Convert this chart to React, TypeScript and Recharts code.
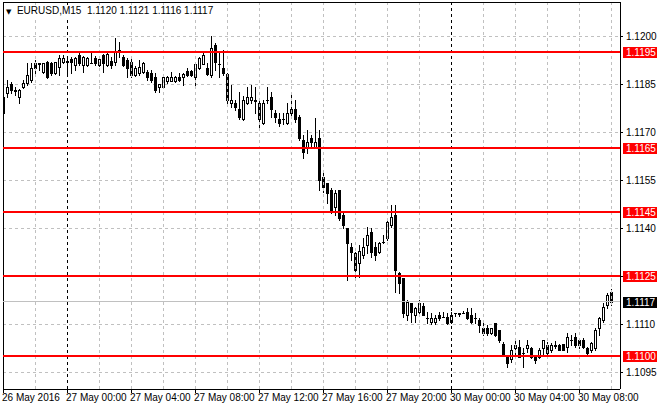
import React from 'react';
import { ComposedChart, Bar, XAxis, YAxis, CartesianGrid, ReferenceLine } from 'recharts';

const FONT = '"Liberation Sans", Arial, sans-serif';

// EURUSD M15 candles, 26 May 20:00 .. 30 May 10:00
const opens = [
  1.11759, 1.11822, 1.11850, 1.11831, 1.11809, 1.11841, 1.11853, 1.11863, 1.11916, 1.11916,
  1.11888, 1.11919, 1.11916, 1.11884, 1.11903, 1.11919, 1.11922, 1.11928, 1.11909, 1.11941,
  1.11909, 1.11909, 1.11916, 1.11931, 1.11909, 1.11941, 1.11909, 1.11922, 1.11919, 1.11956,
  1.11934, 1.11925, 1.11919, 1.11878, 1.11884, 1.11888, 1.11888, 1.11884, 1.11872, 1.11841,
  1.11841, 1.11859, 1.11859, 1.11859, 1.11872, 1.11872, 1.11891, 1.11891, 1.11872, 1.11900,
  1.11913, 1.11900, 1.11878, 1.11972, 1.11913, 1.11900, 1.11881, 1.11791, 1.11791, 1.11772,
  1.11741, 1.11791, 1.11800, 1.11800, 1.11791, 1.11728, 1.11800, 1.11809, 1.11759, 1.11741,
  1.11741, 1.11728, 1.11772, 1.11772, 1.11747, 1.11675, 1.11650, 1.11681, 1.11653, 1.11681,
  1.11559, 1.11541, 1.11519, 1.11466, 1.11519, 1.11441, 1.11400, 1.11341, 1.11322, 1.11291,
  1.11316, 1.11347, 1.11388, 1.11341, 1.11325, 1.11356, 1.11369, 1.11409, 1.11441, 1.11259,
  1.11244, 1.11128, 1.11166, 1.11128, 1.11138, 1.11156, 1.11119, 1.11106, 1.11106, 1.11128,
  1.11122, 1.11122, 1.11106, 1.11134, 1.11134, 1.11134, 1.11138, 1.11128, 1.11119, 1.11113,
  1.11088, 1.11088, 1.11072, 1.11103, 1.11081, 1.11038, 1.10997, 1.10991, 1.11025, 1.11028,
  1.11009, 1.11025, 1.11025, 1.10997, 1.10997, 1.11025, 1.11034, 1.11019, 1.11034, 1.11034,
  1.11038, 1.11028, 1.11050, 1.11059, 1.11050, 1.11050, 1.11025, 1.11019, 1.11025, 1.11088,
  1.11113, 1.11159, 1.11200,
];

const highs = [
  1.11841, 1.11863, 1.11856, 1.11841, 1.11834, 1.11863, 1.11916, 1.11916, 1.11925, 1.11916,
  1.11916, 1.11922, 1.11919, 1.11919, 1.11941, 1.11941, 1.11931, 1.11934, 1.11934, 1.11947,
  1.11938, 1.11934, 1.11947, 1.11938, 1.11934, 1.11944, 1.11947, 1.11934, 1.11994, 1.11981,
  1.11941, 1.11931, 1.11931, 1.11906, 1.11925, 1.11919, 1.11894, 1.11894, 1.11884, 1.11850,
  1.11875, 1.11875, 1.11888, 1.11875, 1.11884, 1.11884, 1.11900, 1.11894, 1.11916, 1.11934,
  1.11947, 1.11916, 1.12000, 1.11978, 1.11947, 1.11956, 1.11884, 1.11847, 1.11800, 1.11825,
  1.11813, 1.11841, 1.11847, 1.11841, 1.11800, 1.11800, 1.11841, 1.11825, 1.11769, 1.11759,
  1.11759, 1.11791, 1.11822, 1.11800, 1.11753, 1.11691, 1.11706, 1.11691, 1.11744, 1.11706,
  1.11572, 1.11541, 1.11525, 1.11519, 1.11519, 1.11450, 1.11400, 1.11353, 1.11325, 1.11347,
  1.11369, 1.11403, 1.11400, 1.11356, 1.11356, 1.11378, 1.11431, 1.11472, 1.11472, 1.11263,
  1.11244, 1.11175, 1.11166, 1.11153, 1.11175, 1.11166, 1.11138, 1.11134, 1.11128, 1.11138,
  1.11138, 1.11134, 1.11138, 1.11134, 1.11134, 1.11141, 1.11150, 1.11150, 1.11134, 1.11119,
  1.11103, 1.11097, 1.11088, 1.11103, 1.11081, 1.11044, 1.11003, 1.11034, 1.11056, 1.11050,
  1.11025, 1.11050, 1.11028, 1.11003, 1.11025, 1.11050, 1.11044, 1.11041, 1.11047, 1.11038,
  1.11038, 1.11072, 1.11066, 1.11072, 1.11050, 1.11056, 1.11028, 1.11044, 1.11088, 1.11122,
  1.11166, 1.11197, 1.11210,
];

const lows = [
  1.11741, 1.11809, 1.11822, 1.11816, 1.11791, 1.11838, 1.11847, 1.11856, 1.11884, 1.11894,
  1.11884, 1.11869, 1.11878, 1.11881, 1.11878, 1.11916, 1.11884, 1.11884, 1.11894, 1.11909,
  1.11888, 1.11906, 1.11916, 1.11909, 1.11906, 1.11888, 1.11906, 1.11900, 1.11909, 1.11934,
  1.11906, 1.11872, 1.11872, 1.11875, 1.11878, 1.11884, 1.11863, 1.11856, 1.11825, 1.11825,
  1.11838, 1.11853, 1.11859, 1.11856, 1.11859, 1.11847, 1.11875, 1.11875, 1.11847, 1.11897,
  1.11913, 1.11878, 1.11872, 1.11894, 1.11872, 1.11878, 1.11788, 1.11778, 1.11769, 1.11741,
  1.11738, 1.11788, 1.11791, 1.11759, 1.11713, 1.11725, 1.11791, 1.11747, 1.11731, 1.11719,
  1.11725, 1.11725, 1.11753, 1.11731, 1.11675, 1.11619, 1.11634, 1.11653, 1.11650, 1.11519,
  1.11513, 1.11478, 1.11447, 1.11441, 1.11425, 1.11400, 1.11238, 1.11300, 1.11247, 1.11247,
  1.11306, 1.11322, 1.11309, 1.11300, 1.11322, 1.11353, 1.11363, 1.11403, 1.11200, 1.11197,
  1.11122, 1.11113, 1.11106, 1.11106, 1.11131, 1.11128, 1.11103, 1.11100, 1.11100, 1.11113,
  1.11122, 1.11100, 1.11103, 1.11125, 1.11125, 1.11134, 1.11116, 1.11103, 1.11103, 1.11075,
  1.11066, 1.11066, 1.11069, 1.11063, 1.11044, 1.11000, 1.10966, 1.10981, 1.10997, 1.10997,
  1.10966, 1.11013, 1.10994, 1.10978, 1.10994, 1.11003, 1.11003, 1.11013, 1.11025, 1.11019,
  1.11019, 1.11013, 1.11034, 1.11028, 1.11025, 1.11025, 1.11000, 1.11013, 1.11019, 1.11066,
  1.11106, 1.11150, 1.11160,
];

const closes = [
  1.11809, 1.11841, 1.11831, 1.11828, 1.11831, 1.11853, 1.11878, 1.11900, 1.11900, 1.11913,
  1.11916, 1.11872, 1.11884, 1.11919, 1.11931, 1.11931, 1.11919, 1.11919, 1.11931, 1.11916,
  1.11934, 1.11931, 1.11917, 1.11916, 1.11928, 1.11916, 1.11944, 1.11909, 1.11950, 1.11955,
  1.11909, 1.11900, 1.11878, 1.11900, 1.11903, 1.11916, 1.11872, 1.11863, 1.11831, 1.11850,
  1.11872, 1.11872, 1.11872, 1.11872, 1.11863, 1.11881, 1.11878, 1.11878, 1.11913, 1.11931,
  1.11941, 1.11881, 1.11963, 1.11919, 1.11912, 1.11884, 1.11800, 1.11800, 1.11778, 1.11747,
  1.11800, 1.11809, 1.11809, 1.11797, 1.11741, 1.11791, 1.11801, 1.11772, 1.11747, 1.11728,
  1.11742, 1.11759, 1.11759, 1.11741, 1.11681, 1.11638, 1.11669, 1.11669, 1.11669, 1.11550,
  1.11528, 1.11509, 1.11456, 1.11509, 1.11431, 1.11409, 1.11353, 1.11325, 1.11269, 1.11328,
  1.11341, 1.11378, 1.11325, 1.11316, 1.11353, 1.11357, 1.11419, 1.11434, 1.11269, 1.11228,
  1.11134, 1.11169, 1.11138, 1.11150, 1.11166, 1.11128, 1.11120, 1.11119, 1.11119, 1.11119,
  1.11123, 1.11103, 1.11128, 1.11133, 1.11131, 1.11135, 1.11119, 1.11106, 1.11120, 1.11097,
  1.11072, 1.11072, 1.11088, 1.11066, 1.11050, 1.11003, 1.10978, 1.11019, 1.11034, 1.10997,
  1.11010, 1.11034, 1.10997, 1.10988, 1.11019, 1.11050, 1.11009, 1.11034, 1.11031, 1.11019,
  1.11019, 1.11059, 1.11051, 1.11034, 1.11034, 1.11028, 1.11009, 1.11041, 1.11081, 1.11119,
  1.11153, 1.11191, 1.11170,
];

const xTicks = [0, 16, 32, 48, 64, 80, 96, 112, 128, 144];
const xLabels = [
  '26 May 2016', '27 May 00:00', '27 May 04:00', '27 May 08:00', '27 May 12:00',
  '27 May 16:00', '27 May 20:00', '30 May 00:00', '30 May 04:00', '30 May 08:00',
];
const gridX = [8, 24, 32, 40, 48, 56, 64, 72, 80, 88, 96, 104, 120, 128, 136, 144, 152];
const daySeparators = [16, 112];

const yTicks = [1.1095, 1.111, 1.1125, 1.114, 1.1155, 1.117, 1.1185, 1.12];
const levels = [1.1195, 1.1165, 1.1145, 1.1125, 1.11];

const X_DOMAIN: [number, number] = [0, 154.25];
const Y_DOMAIN: [number, number] = [1.10896875, 1.1210625];

const candles = opens.map((open, i) => ({
  i,
  open,
  high: highs[i],
  low: lows[i],
  close: closes[i],
  range: [lows[i], highs[i]],
}));

const last = candles[candles.length - 1];

function Candle(props: any) {
  const { x, y, width, height, payload } = props;
  if (x == null || !payload) return null;
  const top = Math.min(y, y + height);
  const span = Math.abs(height);
  const { open, close, high, low } = payload;
  const k = high > low ? span / (high - low) : 0;
  const toY = (v: number) => top + (high - v) * k;
  const cx = Math.round(x + width / 2);
  const yh = Math.round(top);
  const yl = Math.round(top + span);
  const yo = Math.round(toY(open));
  const yc = Math.round(toY(close));
  const bTop = Math.min(yo, yc);
  const bBot = Math.max(yo, yc);
  const up = close > open;
  return (
    <g>
      <rect x={cx} y={yh} width={1} height={Math.max(1, yl - yh + 1)} fill="#000" />
      {bBot - bTop < 1 ? (
        <rect x={cx - 1} y={bTop} width={3} height={1} fill="#000" />
      ) : up ? (
        <rect x={cx - 0.5} y={bTop + 0.5} width={2} height={bBot - bTop} fill="#fff" stroke="#000" />
      ) : (
        <rect x={cx - 1} y={bTop} width={3} height={bBot - bTop + 1} fill="#000" />
      )}
    </g>
  );
}

function PriceTag({ viewBox, text, bg }: any) {
  if (!viewBox) return null;
  const x = viewBox.x + viewBox.width + 3;
  const y = viewBox.y;
  return (
    <g>
      <rect x={x} y={y - 5} width={34} height={11} fill={bg} />
      <text x={x + 3} y={y + 4} fill="#fff" fontSize={10} fontFamily={FONT}>
        {text}
      </text>
    </g>
  );
}

function PriceTick({ x, y, payload }: any) {
  // a level tag already sits on this price, so its axis text is hidden behind it
  if (levels.some((lv) => Math.abs(lv - payload.value) < 1e-7)) return null;
  return (
    <text x={x} y={y + 3.5} fontSize={10} fontFamily={FONT} fill="#000" textAnchor="start">
      {Number(payload.value).toFixed(4)}
    </text>
  );
}

function TimeTick({ x, y, payload }: any) {
  const idx = xTicks.indexOf(payload.value);
  return (
    <text x={x - 1} y={y + 8} fontSize={10} fontFamily={FONT} fill="#000" textAnchor="start">
      {xLabels[idx]}
    </text>
  );
}

export default function App() {
  return (
    <div style={{ position: 'relative', width: 660, height: 410, background: '#fff' }}>
      <style>{`body{margin:0} .recharts-surface line, .recharts-surface rect, .recharts-surface path{shape-rendering:crispEdges}`}</style>
      <ComposedChart
        width={660}
        height={410}
        data={candles}
        margin={{ top: 2, right: 0, bottom: 0, left: 3 }}
      >
        <CartesianGrid vertical={false} stroke="#c0c0c0" strokeDasharray="3 3" />
        {gridX.map((g) => (
          <ReferenceLine key={`g${g}`} x={g} stroke="#c0c0c0" strokeDasharray="3 3" />
        ))}
        {daySeparators.map((d) => (
          <ReferenceLine key={`d${d}`} x={d} stroke="#000" strokeDasharray="3 3" />
        ))}
        <XAxis
          dataKey="i"
          type="number"
          domain={X_DOMAIN}
          allowDataOverflow
          ticks={xTicks}
          interval={0}
          height={21}
          tickSize={4}
          tickMargin={0}
          axisLine={{ stroke: '#000' }}
          tickLine={{ stroke: '#000' }}
          tick={<TimeTick />}
        />
        <YAxis
          orientation="right"
          type="number"
          domain={Y_DOMAIN}
          allowDataOverflow
          ticks={yTicks}
          interval={0}
          width={40}
          tickSize={3}
          tickMargin={3}
          axisLine={{ stroke: '#000' }}
          tickLine={{ stroke: '#000' }}
          tick={<PriceTick />}
        />
        <ReferenceLine x={0} stroke="#000" />
        <ReferenceLine y={Y_DOMAIN[1]} stroke="#000" />
        <ReferenceLine
          y={last.close}
          stroke="#c0c0c0"
          label={<PriceTag text={last.close.toFixed(4)} bg="#000" />}
        />
        <Bar dataKey="range" barSize={3} isAnimationActive={false} shape={(p: any) => <Candle {...p} />} />
        {levels.map((lv) => (
          <ReferenceLine
            key={`l${lv}`}
            y={lv}
            stroke="#ff0000"
            strokeWidth={2}
            label={<PriceTag text={lv.toFixed(4)} bg="#ff0000" />}
          />
        ))}
      </ComposedChart>
      <div
        style={{
          position: 'absolute',
          left: 6,
          top: 5,
          fontFamily: FONT,
          fontSize: 10,
          lineHeight: '11px',
          whiteSpace: 'pre',
          background: '#fff',
          color: '#000',
        }}
      >
        <span style={{ fontFamily: '"DejaVu Sans", sans-serif', fontSize: 7 }}>▼</span>
        {`  EURUSD,M15  ${last.open.toFixed(4)} ${last.high.toFixed(4)} ${last.low.toFixed(4)} ${last.close.toFixed(4)}`}
      </div>
    </div>
  );
}
